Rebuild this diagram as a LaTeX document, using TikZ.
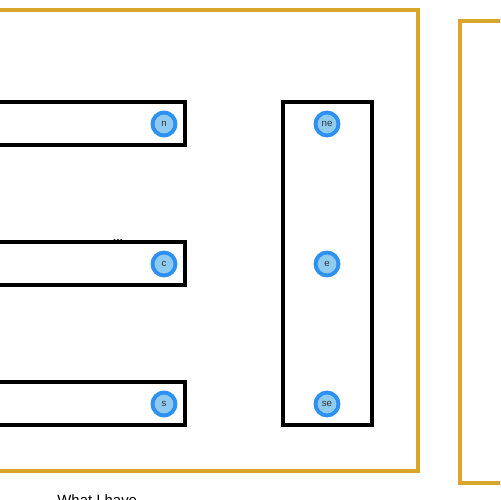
\documentclass[tikz,border=0pt]{standalone}
\usepackage{fontspec}
\setmainfont{Liberation Sans}
\definecolor{frameorange}{HTML}{D9A52B}
\definecolor{dotblue}{HTML}{2E90F0}
\definecolor{dotfill}{HTML}{8FCBEF}
\tikzset{
  frame/.style={draw=frameorange, line width=2.2pt},
  bar/.style={draw=black, line width=2.2pt},
  anchordot/.style={circle, draw=dotblue, fill=dotfill, line width=2.2pt,
    minimum size=0.46cm, inner sep=0pt, text=black!80, font=\fontsize{5.5}{5.5}\selectfont},
}
\begin{document}
\begin{tikzpicture}[x=0.02cm, y=-0.02cm]
\useasboundingbox (0,0) rectangle (500,500);
\clip (0,0) rectangle (500,500);
% outer frames
\draw[frame] (-20,10) rectangle (418,471);
\draw[frame] (460,21) rectangle (540,483);
% bars
\draw[bar] (-20,102) rectangle (185,145);
\draw[bar] (-20,242) rectangle (185,285);
\draw[bar] (-20,382) rectangle (185,425);
\draw[bar] (283,102) rectangle (372,425);
% anchors
\node[anchordot] (n) at (164,124) {n};
\node[anchordot] (c) at (164,264) {c};
\node[anchordot] (s) at (164,404) {s};
\node[anchordot] (ne) at (327,124) {ne};
\node[anchordot] (e) at (327,264) {e};
\node[anchordot] (se) at (327,404) {se};
% labels
\node[font=\fontsize{7}{7}\selectfont\bfseries, inner sep=0pt, anchor=south] (dots) at (118,242) {...};
\node[font=\fontsize{8.5}{8.5}\selectfont, inner sep=0pt, anchor=north west] (caption) at (57,494) {What I have};
\end{tikzpicture}
\end{document}
